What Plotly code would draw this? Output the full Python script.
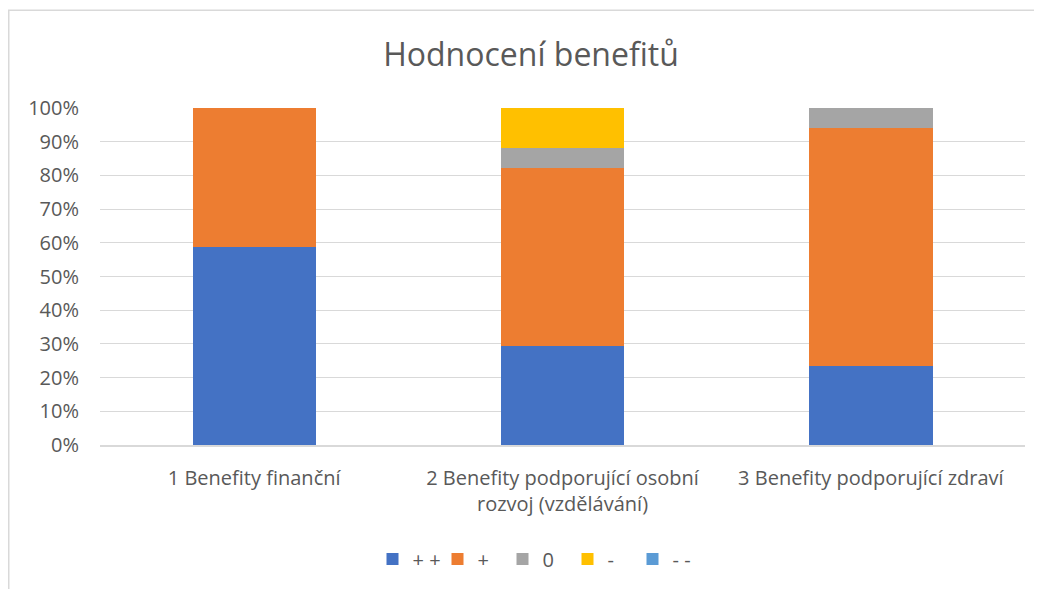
import plotly.graph_objects as go

categories = ["1 Benefity finanční",
              "2 Benefity podporující osobní<br>rozvoj (vzdělávání)",
              "3 Benefity podporující zdraví"]
series_names = ["+ +", "+", "0", "-", "- -"]
values_pp = [58.8, 29.4, 23.5]
values_p = [41.2, 52.9, 70.6]
values_0 = [0.0, 5.9, 5.9]
values_m = [0.0, 11.8, 0.0]
values_mm = [0.0, 0.0, 0.0]
colors = ["#4472C4", "#ED7D31", "#A5A5A5", "#FFC000", "#5B9BD5"]
tick_vals = [0, 10, 20, 30, 40, 50, 60, 70, 80, 90, 100]
tick_text = [f"{v}%" for v in tick_vals]

FONT = "'Open Sans', sans-serif"
TXT = "#595959"

W, H = 1034, 581
L, R, T, B = 92, 17, 100, 143
PW, PH = W - L - R, H - T - B

fig = go.Figure()
for name, vals, col in zip(series_names,
                           [values_pp, values_p, values_0, values_m, values_mm],
                           colors):
    fig.add_trace(go.Bar(x=categories, y=vals, name=name,
                         marker=dict(color=col, line=dict(width=0)),
                         hovertemplate="%{y}%<extra>" + name + "</extra>"))

fig.update_layout(
    width=W, height=H,
    barmode="stack", bargap=0.6,
    plot_bgcolor="white", paper_bgcolor="white",
    margin=dict(l=L, r=R, t=T, b=B),
    font=dict(family=FONT, color=TXT, size=20),
    title=dict(text="Hodnocení benefitů", x=(523 - L) / PW, xref="paper", xanchor="center",
               y=1 - 47 / H, yanchor="middle",
               font=dict(size=32, color=TXT, family=FONT)),
    xaxis=dict(showgrid=False, showline=True, linecolor="#d9d9d9", linewidth=1.5,
               ticks="", ticklabelstandoff=14, tickfont=dict(size=20, color=TXT)),
    yaxis=dict(range=[0, 100], tickmode="array", tickvals=tick_vals, ticktext=tick_text,
               showgrid=True, gridcolor="#d9d9d9", gridwidth=1.3,
               zeroline=False, showline=False, ticks="", ticklabelstandoff=20,
               tickfont=dict(size=20, color=TXT)),
    legend=dict(orientation="h", x=(527 - L) / PW, xanchor="center",
                y=(PH - (551 - T)) / PH, yanchor="middle",
                font=dict(size=20, color=TXT), traceorder="normal",
                entrywidth=20, entrywidthmode="pixels",
                itemclick=False),
    shapes=[dict(type="rect", xref="paper", yref="paper",
                 x0=(0.75 - L) / PW, x1=(W + 20 - L) / PW,
                 y0=(PH - (H + 20 - T)) / PH, y1=(PH - (2 - T)) / PH,
                 line=dict(color="#d9d9d9", width=1.5), layer="below")],
)

fig.write_html("out.html")
